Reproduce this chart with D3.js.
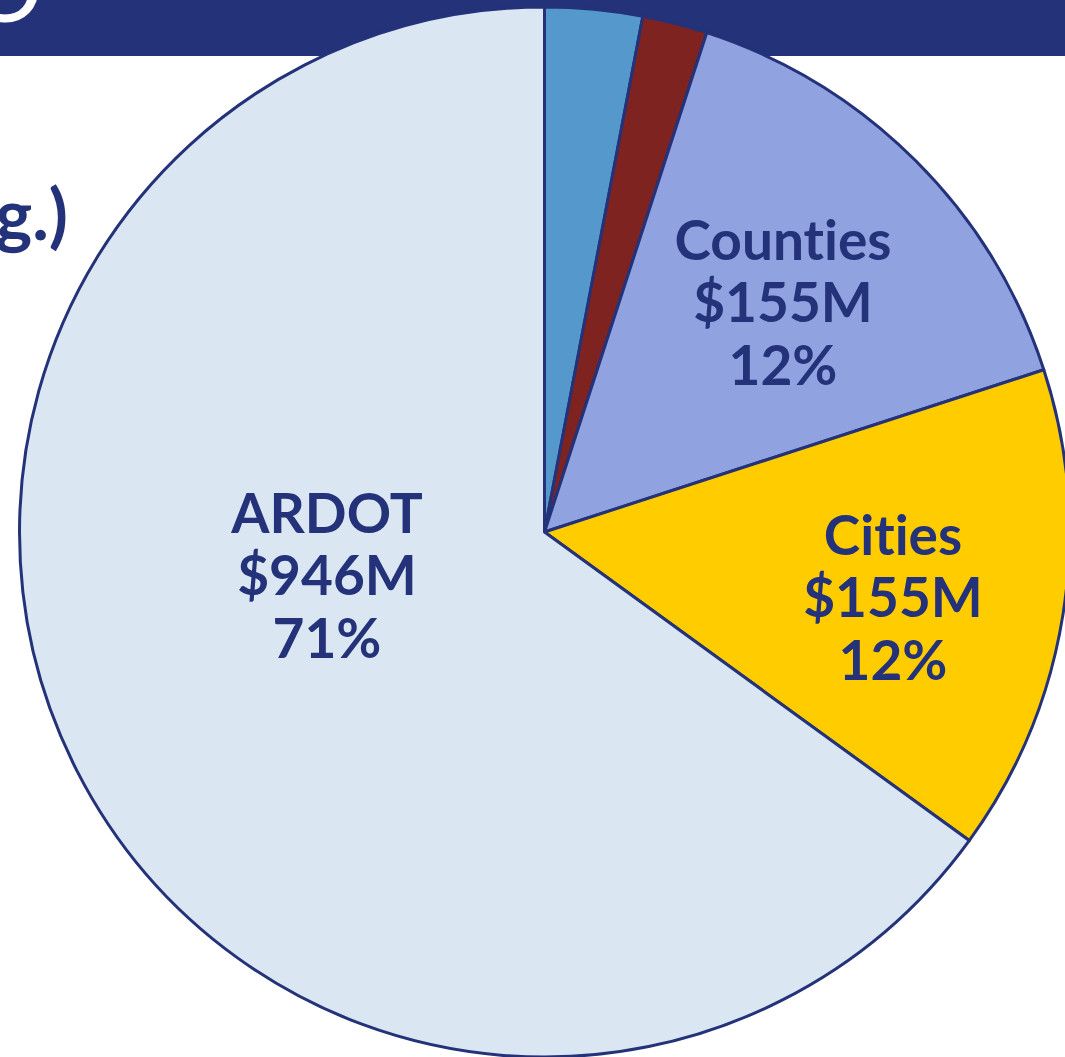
<!DOCTYPE html>
<html>
<head>
<meta charset="utf-8">
<script src="https://cdn.jsdelivr.net/npm/d3@7"></script>
<style>
  html, body { margin: 0; padding: 0; background: #fff; overflow: hidden; }
  svg { display: block; }
  text { font-variant-ligatures: none; font-feature-settings: "liga" 0, "clig" 0; }
</style>
</head>
<body>
<div id="chart"></div>
<script>
const WIDTH = 1065;
const HEIGHT = 1057;

// slices clockwise from 12 o'clock (share of the pie as drawn)
const categories = ['Other', 'Transit', 'Counties', 'Cities', 'ARDOT'];
const shares = [3, 2, 15, 15, 65];
const amountLabels = [null, null, '$155M', '$155M', '$946M'];
const percentLabels = [null, null, '12%', '12%', '71%'];
const sliceColors = ['#5599cc', '#7f2320', '#91a2e0', '#ffcc00', '#dae7f3'];

const NAVY = '#243279';
const CENTER = {x: 544.5, y: 532};
const RADIUS = 525;
const LINE_GAP = 62.5;

// where each label block sits (middle line baseline)
const labelPlace = {
    Counties: {x: 783, y: 322},
    Cities:   {x: 893, y: 617},
    ARDOT:    {x: 327, y: 595}
};

function initialize() {
    let svg = d3.select('#chart').append('svg')
        .attr('width', WIDTH)
        .attr('height', HEIGHT);

    // title banner, mostly cropped off
    svg.append('rect')
        .attr('x', 0)
        .attr('y', 0)
        .attr('width', WIDTH)
        .attr('height', 56)
        .attr('fill', NAVY);
    svg.append('text')
        .attr('x', 5)
        .attr('y', 22)
        .attr('text-anchor', 'middle')
        .attr('font-family', 'Lato')
        .attr('font-size', 95)
        .attr('fill', '#fff')
        .text('O');

    // subtitle fragment on the left
    svg.append('text')
        .attr('x', 68)
        .attr('y', 240)
        .attr('text-anchor', 'end')
        .attr('font-family', 'Lato')
        .attr('font-weight', 700)
        .attr('font-size', 70)
        .attr('fill', NAVY)
        .text('(Avg.)');

    let pie = d3.pie().sort(null).value(d => d)(shares);
    let arc = d3.arc().innerRadius(0).outerRadius(RADIUS);

    let g = svg.append('g')
        .attr('transform', 'translate(' + CENTER.x + ',' + CENTER.y + ')');

    g.selectAll('path.slice')
        .data(pie)
        .enter().append('path')
        .attr('class', 'slice')
        .attr('d', arc)
        .attr('fill', (d, i) => sliceColors[i])
        .attr('stroke', NAVY)
        .attr('stroke-width', 3)
        .attr('stroke-linejoin', 'round');

    categories.forEach((name, i) => {
        if (!amountLabels[i]) return;
        let pos = labelPlace[name];
        let lines = [name, amountLabels[i], percentLabels[i]];
        lines.forEach((txt, j) => {
            svg.append('text')
                .attr('x', pos.x)
                .attr('y', pos.y + (j - 1) * LINE_GAP)
                .attr('text-anchor', 'middle')
                .attr('font-family', 'Lato')
                .attr('font-weight', 700)
                .attr('font-size', 55)
                .attr('fill', NAVY)
                .text(txt);
        });
    });
}

initialize();
</script>
</body>
</html>
